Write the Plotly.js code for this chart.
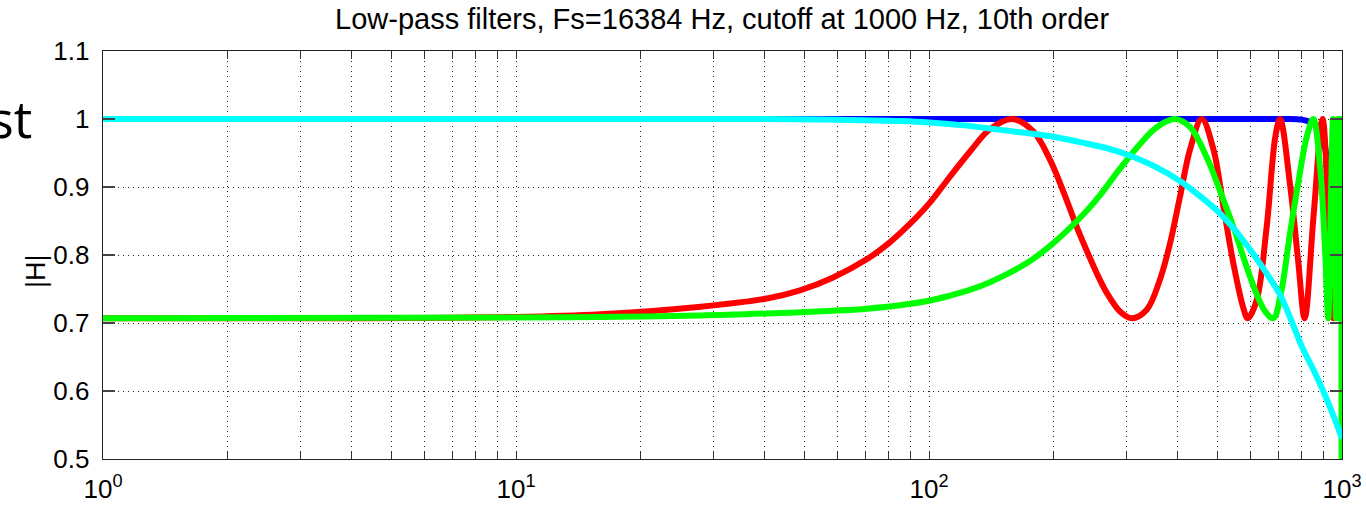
<!DOCTYPE html>
<html>
<head>
<meta charset="utf-8">
<script src="https://cdn.plot.ly/plotly-3.0.1.min.js"></script>
<style>
  html, body { margin: 0; padding: 0; background: #ffffff; }
  #chart { width: 1366px; height: 505px; }
</style>
</head>
<body>
<div id="chart"></div>
<script>
// ---- Data ----
// Frequency (Hz) and magnitude |H| for each filter curve

// Blue curve
const freqBlue = [1, 10, 100, 300, 500, 700, 800, 870, 900, 930, 950, 970, 985, 1000];
const magBlue  = [1.0, 1.0, 1.0, 1.0, 1.0, 1.0, 0.999, 0.99, 0.972, 0.915, 0.865, 0.81, 0.76, 0.707];

// Red curve
const freqRed = [1, 4, 10, 16, 28, 40.5, 48.7, 58.6, 70.8, 80.5, 90, 100.5, 112, 126, 140.5, 159,
                 178.6, 196, 216, 228, 248, 259.5, 269, 290, 310, 337, 362, 383, 405, 429, 457.5,
                 488, 516, 546, 577, 591, 621, 657, 690, 708, 748, 783, 812, 853, 897, 927, 953,
                 973, 988, 1000];
const magRed  = [0.707, 0.707, 0.709, 0.713, 0.724, 0.736, 0.748, 0.767, 0.794, 0.819, 0.846, 0.877, 0.914, 0.953, 0.985, 1.0,
                 0.982, 0.941, 0.879, 0.841, 0.789, 0.763, 0.745, 0.717, 0.707, 0.720, 0.763, 0.816, 0.885, 0.956, 1.0,
                 0.956, 0.872, 0.787, 0.722, 0.707, 0.733, 0.841, 0.975, 1.0, 0.905, 0.792, 0.707, 0.856, 1.0, 0.86, 0.707,
                 0.86, 1.0, 0.707];

// Green curve
const freqGreen = [1, 10, 16, 28, 40.5, 58.6, 70.8, 85, 100.5, 112, 126, 140.5, 157, 175.6, 196, 219.5,
                   241, 259.5, 290, 324, 356, 394, 429, 470, 506, 546, 588, 621, 650, 682, 712, 748,
                   783, 821, 852, 885, 910, 926, 940, 951, 960, 967, 972, 977, 982, 986, 989, 993,
                   997, 1000];
const magGreen  = [0.707, 0.708, 0.709, 0.711, 0.714, 0.718, 0.721, 0.726, 0.733, 0.740, 0.749, 0.760, 0.774, 0.791, 0.813, 0.840,
                   0.865, 0.888, 0.927, 0.963, 0.988, 1.0, 0.988, 0.944, 0.895, 0.841, 0.782, 0.743, 0.718, 0.707, 0.745, 0.831,
                   0.905, 0.973, 1.0, 0.929, 0.807, 0.707, 0.88, 1.0, 0.85, 0.707, 0.85, 1.0, 0.85, 0.707, 0.85, 1.0,
                   0.7, 0.0];

// Cyan curve
const freqCyan = [1, 10, 20, 40, 60, 85, 100, 120, 149, 200, 232, 270, 307, 350, 405, 450, 507, 550, 599,
                  650, 707, 750, 800, 850, 899, 950, 1000];
const magCyan  = [1.0, 1.0, 1.0, 1.0, 0.999, 0.997, 0.995, 0.991, 0.984, 0.974, 0.966, 0.957, 0.946, 0.931, 0.909,
                  0.888, 0.861, 0.837, 0.808, 0.777, 0.742, 0.707, 0.665, 0.633, 0.601, 0.566, 0.53];

// Axis ticks
const xTickVals = [1, 10, 100, 1000];
const xTickText = ['10<sup>0</sup>', '10<sup>1</sup>', '10<sup>2</sup>', '10<sup>3</sup>'];
const xMinorVals = [2, 3, 4, 5, 6, 7, 8, 9, 20, 30, 40, 50, 60, 70, 80, 90, 200, 300, 400, 500, 600, 700, 800, 900];
const yTickVals = [0.5, 0.6, 0.7, 0.8, 0.9, 1.0, 1.1];
const yTickText = ['0.5', '0.6', '0.7', '0.8', '0.9', '1', '1.1'];

const titleText = 'Low-pass filters, Fs=16384 Hz, cutoff at 1000 Hz, 10th order';
const yLabelText = '|H|';
const sideText = 'st';

// ---- Plot ----
const LW = 6;
function trace(x, y, color) {
  return { x: x, y: y, type: 'scatter', mode: 'lines',
           line: { color: color, width: LW, shape: 'spline', smoothing: 1 },
           hoverinfo: 'skip' };
}
const data = [
  trace(freqBlue, magBlue, '#0000ff'),
  trace(freqRed, magRed, '#ff0000'),
  trace(freqGreen, magGreen, '#00ff00'),
  trace(freqCyan, magCyan, '#00ffff')
];

const FONT = 'Liberation Sans, Arial, sans-serif';
const gridDash = '1px,4px';
const layout = {
  width: 1366, height: 505, autosize: false,
  margin: { l: 103, r: 24, t: 51, b: 46, pad: 0 },
  paper_bgcolor: '#ffffff', plot_bgcolor: '#ffffff',
  showlegend: false,
  font: { family: FONT, color: '#000000' },
  title: { text: titleText, font: { family: FONT, size: 29, color: '#000' },
           x: 0.5286, xanchor: 'center', y: 0.962, yanchor: 'middle' },
  xaxis: {
    type: 'log', range: [0, 3], autorange: false,
    tickmode: 'array', tickvals: xTickVals, ticktext: xTickText,
    ticks: 'inside', ticklen: 8, tickwidth: 1, tickcolor: '#333',
    tickfont: { family: FONT, size: 26, color: '#000' },
    ticklabelstandoff: 6,
    showgrid: true, gridcolor: '#222', gridwidth: 1, griddash: gridDash,
    showline: true, linecolor: '#222', linewidth: 1.3, mirror: 'allticks',
    zeroline: false,
    minor: { tickmode: 'array', tickvals: xMinorVals, ticks: 'inside', ticklen: 8,
             tickcolor: '#333', tickwidth: 1,
             showgrid: true, gridcolor: '#222', gridwidth: 1, griddash: gridDash }
  },
  yaxis: {
    range: [0.5, 1.1], autorange: false,
    tickmode: 'array', tickvals: yTickVals, ticktext: yTickText,
    ticks: 'inside', ticklen: 12, tickwidth: 1.5, tickcolor: '#444',
    tickfont: { family: FONT, size: 26, color: '#000' },
    ticklabelstandoff: 7,
    showgrid: true, gridcolor: '#222', gridwidth: 1, griddash: gridDash,
    showline: true, linecolor: '#222', linewidth: 1.3, mirror: 'allticks',
    zeroline: false
  },
  annotations: [
    { text: yLabelText, xref: 'paper', yref: 'paper', x: -0.0535, y: 0.46,
      xanchor: 'center', yanchor: 'middle', textangle: -90, showarrow: false,
      font: { family: FONT, size: 27, color: '#000' } },
    { text: sideText, xref: 'paper', yref: 'paper', x: -0.0935, y: 0.838,
      xanchor: 'left', yanchor: 'middle', showarrow: false,
      font: { family: 'Open Sans, Noto Sans, sans-serif', size: 52, color: '#000' } }
  ]
};

Plotly.newPlot('chart', data, layout, { staticPlot: true, displayModeBar: false });
</script>
</body>
</html>
